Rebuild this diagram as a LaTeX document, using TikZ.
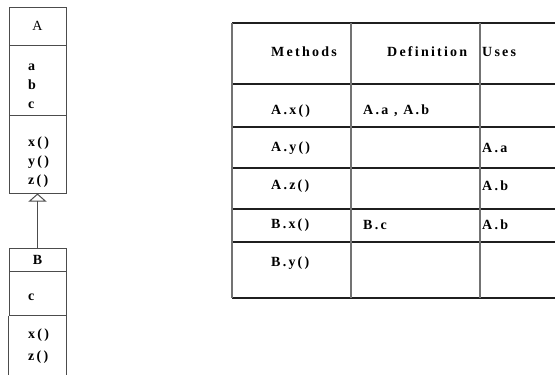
\documentclass[tikz,border=0pt]{standalone}
\usepackage{fontspec}
\setmainfont{Liberation Serif}
\newfontfamily\umlfont{Liberation Serif}[LetterSpace=16]
\usetikzlibrary{arrows.meta}
\definecolor{boxline}{gray}{0.3}
\definecolor{rowrule}{gray}{0.12}
\definecolor{colrule}{gray}{0.45}

\begin{document}
\begin{tikzpicture}[x=1pt, y=-1pt,
  every node/.style={font=\umlfont\bfseries\fontsize{14}{16}\selectfont, inner sep=0pt},
  classpart/.style={draw=boxline, line width=1pt, minimum width=57pt},
  rowline/.style={draw=rowrule, line width=1.2pt},
  colline/.style={draw=colrule, line width=1.8pt}]
\useasboundingbox (0,0) rectangle (555,375);
% left: class A and its subclass B
\begin{scope}
\node[classpart, minimum height=38pt, font=\umlfont\mdseries\fontsize{14}{16}\selectfont] (Ahead) at (37.5,26) {A};
\node[classpart, minimum height=70pt] (Aattr) at (37.5,80) {};
\node[classpart, minimum height=78pt] (Ameth) at (37.5,154) {};
\foreach \t/\y [count=\i] in {a/67, b/85, c/105}
  \node[anchor=west] (Aa\i) at (28,\y) {\t};
\foreach \t/\y [count=\i] in {x()/143, y()/162, z()/181}
  \node[anchor=west] (Am\i) at (28,\y) {\t};
\node[classpart, minimum height=23pt] (Bhead) at (37.5,259.5) {B};
\node[classpart, minimum height=44pt] (Battr) at (37.5,293) {};
\draw[boxline, line width=1pt] (Battr.south west) -- ++(0,62);
\draw[boxline, line width=1pt] (Battr.south east) -- ++(0,62);
\node[anchor=west] (Ba1) at (28,297) {c};
\foreach \t/\y [count=\i] in {x()/335, z()/357}
  \node[anchor=west] (Bm\i) at (28,\y) {\t};
\draw[boxline, line width=1pt, -{Triangle[open, length=8pt, width=18pt]}] (Bhead.north) -- (Ameth.south);
\end{scope}
% right: methods table
\begin{scope}
\foreach \y in {23,84,127,168,209,242,298}
  \draw[rowline] (232,\y) -- (555,\y);
\foreach \x in {232,351,480}
  \draw[colline] (\x,23) -- (\x,298);
\node[anchor=west] (hMeth) at (271,52) {Methods};
\node[anchor=west] (hDef) at (387,52) {Definition};
\node[anchor=west] (hUses) at (482,52) {Uses};
\foreach \m/\d/\u/\y [count=\i] in {{A.x()}/{A.a , A.b}/{}/111, {A.y()}/{}/{A.a}/148,
    {A.z()}/{}/{A.b}/186, {B.x()}/{B.c}/{A.b}/225, {B.y()}/{}/{}/263} {
  \node[anchor=west] (m\i) at (271,\y) {\m};
  \node[anchor=west] (d\i) at (363,\y) {\d};
  \node[anchor=west] (u\i) at (482,\y) {\u};
}
\end{scope}
\end{tikzpicture}
\end{document}
